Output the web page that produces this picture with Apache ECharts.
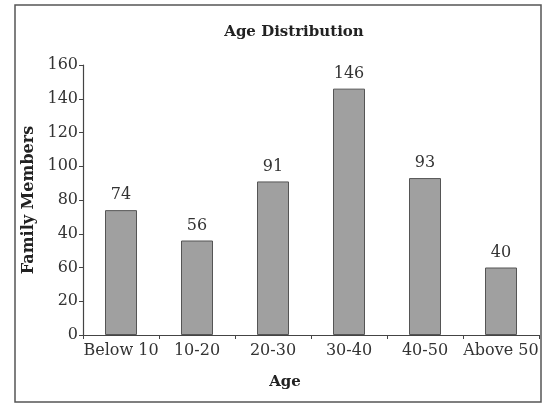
<!DOCTYPE html>
<html>
<head>
<meta charset="utf-8">
<script src="https://cdn.jsdelivr.net/npm/echarts@6/dist/echarts.min.js"></script>
<style>
html,body{margin:0;padding:0;background:#fff;}
#c{width:545px;height:407px;}
</style>
</head>
<body>
<div id="c"></div>
<script>
var categories = ['Below 10', '10-20', '20-30', '30-40', '40-50', 'Above 50'];
var familyMembers = [74, 56, 91, 146, 93, 40];
var yTickLabels = ['0', '20', '60', '40', '80', '100', '120', '140', '160'];

var serif = '"DejaVu Serif", "Liberation Serif", serif';
var chart = echarts.init(document.getElementById('c'));
chart.setOption({
  backgroundColor: '#fff',
  animation: false,
  title: {
    text: 'Age Distribution',
    left: 289,
    textAlign: 'center',
    top: 20,
    textStyle: { fontFamily: serif, fontWeight: 'bold', fontSize: 15, color: '#222' }
  },
  graphic: [{
    type: 'rect',
    shape: { x: 15, y: 5, width: 526, height: 397 },
    style: { fill: 'none', stroke: '#555', lineWidth: 1.5 },
    silent: true
  }],
  grid: { left: 83, right: 6, top: 65, bottom: 72 },
  xAxis: {
    type: 'category',
    data: categories,
    name: 'Age',
    nameLocation: 'middle',
    nameGap: 40,
    nameTextStyle: { fontFamily: serif, fontWeight: 'bold', fontSize: 15, color: '#222', padding: [0, 52, 0, 0] },
    axisLine: { lineStyle: { color: '#444', width: 1.2 } },
    axisTick: { show: true, length: 4, lineStyle: { color: '#444' } },
    axisLabel: { fontFamily: serif, fontSize: 16, color: '#333', margin: 8, interval: 0 }
  },
  yAxis: {
    type: 'value',
    min: 0, max: 160, interval: 20,
    name: 'Family Members',
    nameLocation: 'middle',
    nameGap: 43,
    nameTextStyle: { fontFamily: serif, fontWeight: 'bold', fontSize: 16, color: '#222' },
    splitLine: { show: false },
    axisLine: { show: true, lineStyle: { color: '#444', width: 1.2 } },
    axisTick: { show: true, length: 4, lineStyle: { color: '#444' } },
    axisLabel: {
      fontFamily: serif, fontSize: 16, color: '#333', margin: 5,
      formatter: function (v) { return yTickLabels[Math.round(v / 20)]; }
    }
  },
  series: [{
    type: 'bar',
    data: familyMembers,
    barWidth: 32,
    itemStyle: { color: '#a0a0a0', borderColor: '#555', borderWidth: 1 },
    label: {
      show: true, position: 'top', distance: 7,
      fontFamily: serif, fontSize: 16, color: '#333'
    }
  }]
});
</script>
</body>
</html>
